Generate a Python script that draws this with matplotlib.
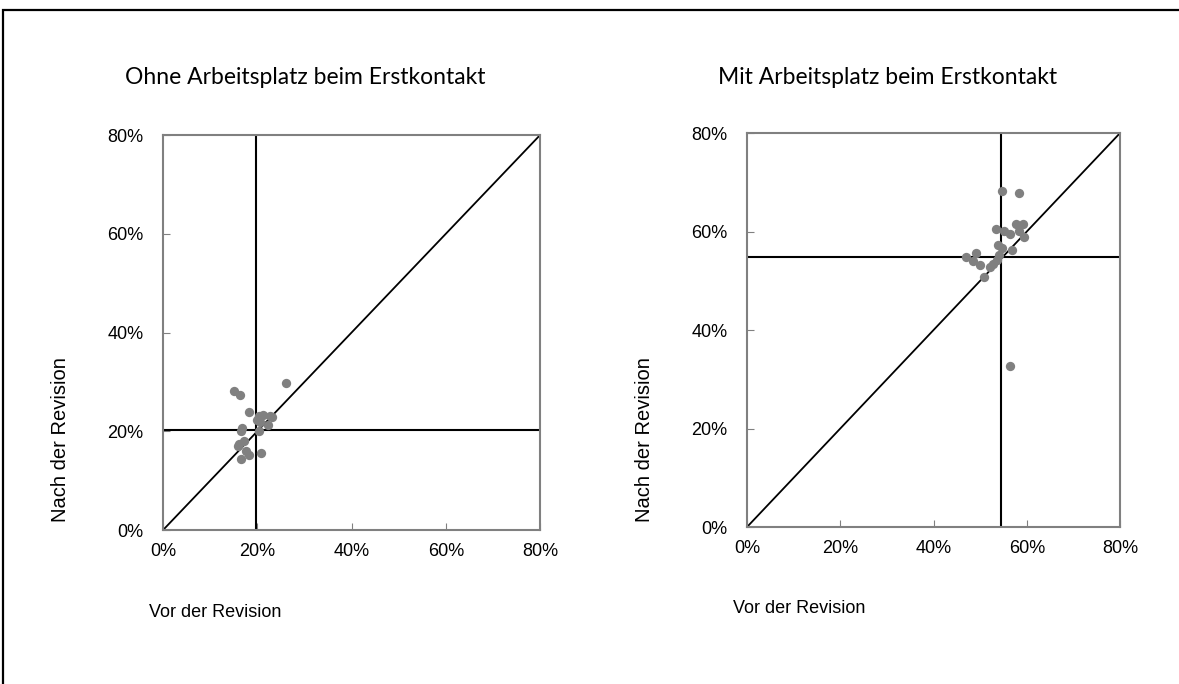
import matplotlib.pyplot as plt
from matplotlib.patches import Rectangle
from matplotlib.ticker import FuncFormatter

# values in percent
ohne_vor = [15.1, 16.3, 26.1, 18.3, 20.4, 21.2, 22.7, 23.1, 19.9, 20.6, 22.3,
            16.8, 16.6, 20.3, 17.1, 16.2, 16.0, 17.6, 18.3, 16.5, 20.7]
ohne_nach = [28.2, 27.4, 29.7, 24.0, 23.1, 23.3, 23.1, 22.8, 22.3, 21.9, 21.3,
             20.6, 20.0, 20.1, 18.0, 17.4, 17.1, 16.1, 15.2, 14.4, 15.5]
ohne_mean = (19.7, 20.2)

mit_vor = [54.7, 58.3, 53.3, 55.2, 56.3, 57.6, 59.1, 58.4, 59.5, 53.9, 54.7,
           56.9, 54.1, 49.2, 46.9, 48.4, 50.0, 52.7, 52.1, 50.9, 56.3, 53.6]
mit_nach = [68.2, 67.8, 60.5, 60.2, 59.4, 61.5, 61.5, 60.2, 58.9, 57.2, 56.7,
            56.2, 55.2, 55.7, 54.8, 54.1, 53.3, 53.4, 52.7, 50.7, 32.7, 54.3]
mit_mean = (54.4, 54.8)

titles = ["Ohne Arbeitsplatz beim Erstkontakt", "Mit Arbeitsplatz beim Erstkontakt"]
ticks = [0, 20, 40, 60, 80]

fig = plt.figure(figsize=(11.79, 6.84), dpi=100)
fig.patches.append(Rectangle((3 / 1179, -0.1), 1.2, 1 - 10 / 684 + 0.1,
                             transform=fig.transFigure, fill=False,
                             edgecolor="black", linewidth=1.6))

axes_pos = [[0.1383, 0.2251, 0.3198, 0.5775], [0.6336, 0.2295, 0.3164, 0.576]]
data = [(ohne_vor, ohne_nach, ohne_mean), (mit_vor, mit_nach, mit_mean)]
title_x = [0.259, 0.753]
ylab_x = [0.051, 0.547]
xlab_pos = [(0.126, 0.105), (0.622, 0.11)]

pct = FuncFormatter(lambda v, p: "%d%%" % v)
for i, (vor, nach, mean) in enumerate(data):
    ax = fig.add_axes(axes_pos[i])
    ax.set_xlim(0, 80)
    ax.set_ylim(0, 80)
    ax.plot([0, 80], [0, 80], color="black", lw=1.3, zorder=2)
    ax.axvline(mean[0], color="black", lw=1.5, zorder=2)
    ax.axhline(mean[1], color="black", lw=1.5, zorder=2)
    ax.scatter(vor, nach, s=45, color="#808080", zorder=3, linewidths=0)
    ax.set_xticks(ticks)
    ax.set_yticks(ticks)
    ax.xaxis.set_major_formatter(pct)
    ax.yaxis.set_major_formatter(pct)
    ax.tick_params(direction="in", length=5, color="#808080", labelsize=13)
    ax.tick_params(axis="x", pad=9)
    ax.tick_params(axis="y", pad=14)
    for lab in ax.get_xticklabels() + ax.get_yticklabels():
        lab.set_family("Liberation Sans")
    for sp in ax.spines.values():
        sp.set_color("#808080")
        sp.set_linewidth(1.5)
    fig.text(title_x[i], 0.887, titles[i], ha="center", va="center",
             fontsize=16.5, family="Lato")
    fig.text(ylab_x[i], 0.357, "Nach der Revision", rotation=90, ha="center",
             va="center", fontsize=14.5, family="Liberation Sans")
    fig.text(xlab_pos[i][0], xlab_pos[i][1], "Vor der Revision", ha="left",
             va="center", fontsize=13, family="Liberation Sans")

fig.savefig("out.png", dpi=100)
